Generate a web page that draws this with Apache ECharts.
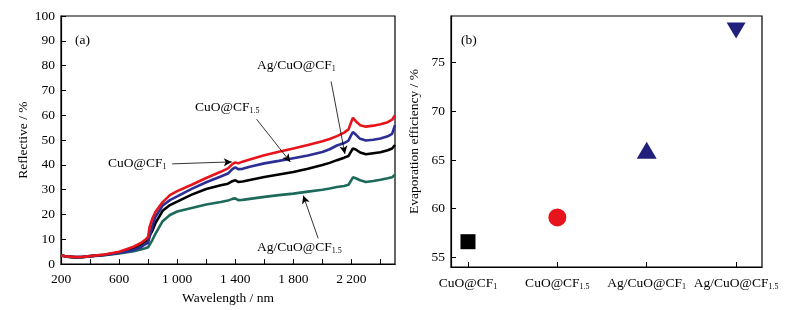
<!DOCTYPE html>
<html>
<head>
<meta charset="utf-8">
<script src="https://cdn.jsdelivr.net/npm/echarts@6/dist/echarts.min.js"></script>
<style>
  html, body { margin: 0; padding: 0; background: #fff; }
  #main { width: 793px; height: 310px; }
</style>
</head>
<body>
<div id="main"></div>
<script>
// (a) 反射光谱
const wavelength = [200, 250, 300, 350, 400, 500, 600, 700, 750, 780, 800, 810, 830, 850, 900, 950, 1000, 1100, 1200, 1300, 1350, 1380, 1400, 1420, 1450, 1500, 1600, 1700, 1800, 1900, 2000, 2050, 2100, 2150, 2180, 2200, 2210, 2230, 2260, 2300, 2350, 2400, 2450, 2480, 2500]
const cuoCF1 = [3.5, 3.0, 2.8, 2.9, 3.2, 3.9, 5.0, 7.0, 8.5, 9.8, 11, 15, 18.5, 21, 25, 27.8, 29.4, 32, 34.7, 37.2, 38.6, 40.3, 41, 40.6, 41.3, 42.2, 43.9, 45.3, 46.6, 48, 49.5, 50.4, 51.6, 53, 54.3, 57.5, 59, 57.6, 56, 55.4, 55.8, 56.4, 57.2, 58.2, 60]
const cuoCF15 = [3.5, 3.0, 2.8, 2.9, 3.2, 3.7, 4.5, 5.6, 6.8, 8.0, 8.6, 11, 15.5, 19, 23.6, 25.8, 27.3, 30.3, 33, 35.3, 36.5, 38.3, 39, 38.3, 38.4, 39.2, 40.6, 41.6, 42.7, 43.8, 45.2, 46.3, 47.8, 48.8, 49.8, 52.2, 53.2, 52.2, 50.5, 49.8, 50.1, 50.6, 51.5, 52.5, 56]
const agCF1 = [3.5, 3.0, 2.8, 2.9, 3.2, 3.8, 4.7, 6.4, 7.8, 9.0, 9.6, 11.5, 13.5, 16.5, 21.5, 23.8, 25.2, 28, 30.3, 31.8, 32.4, 33.4, 33.8, 33.1, 33.3, 33.9, 35.1, 36.1, 37.1, 38.4, 39.9, 40.8, 41.9, 42.9, 43.6, 45.6, 46.6, 46.2, 45, 44.3, 44.7, 45.1, 45.9, 46.6, 48]
const agCF15 = [3.6, 2.9, 2.6, 2.8, 3.1, 3.6, 4.3, 5.2, 5.9, 6.4, 6.8, 7.8, 9.8, 12.2, 17.3, 19.8, 21.2, 22.6, 24, 25, 25.6, 26.3, 26.5, 25.8, 25.9, 26.3, 27.1, 27.8, 28.4, 29.2, 30, 30.5, 31.1, 31.5, 32, 33.9, 35, 34.6, 33.8, 33.1, 33.5, 34, 34.6, 35, 36]
const xTicks = [200, 400, 600, 800, 1000, 1200, 1400, 1600, 1800, 2000, 2200, 2400]
const xLabels = [200, 600, 1000, 1400, 1800, 2200]

// (b) 蒸发效率
const samples = ['CuO@CF|1', 'CuO@CF|1.5', 'Ag/CuO@CF|1', 'Ag/CuO@CF|1.5']
const efficiency = [56.6, 59.1, 66.0, 78.3]
const effTicks = [55, 60, 65, 70, 75]

const FONT = 'Liberation Serif'
const FS = 13.5
const RED = '#e8141c'
const BLUE = '#2d2d96'
const BLACK = '#000000'
const TEAL = '#1d6a5a'
const NAVY = '#20207c'

const rich = {
  n: { fontFamily: FONT, fontSize: FS, color: '#000', lineHeight: 16 },
  s: { fontFamily: FONT, fontSize: 8, color: '#000', lineHeight: 16, padding: [7, 0, 0, 0] }
}
const sub = (name) => {
  const p = name.split('|')
  return '{n|' + p[0] + '}{s|' + p[1] + '}'
}

const pairs = (ys) => wavelength.map((x, i) => [x, ys[i]])

const arrow = (from, to) => ({
  silent: true,
  symbol: ['none', 'arrow'],
  symbolSize: [6, 8],
  label: { show: false },
  lineStyle: { color: '#000', width: 0.8, type: 'solid' },
  data: [[{ coord: from }, { coord: to }]]
})

const axisBase = {
  axisLine: { show: true, onZero: false, lineStyle: { color: '#000', width: 1.2 } },
  axisTick: { show: true, inside: true, length: 5, lineStyle: { color: '#000', width: 1 } },
  splitLine: { show: false },
  axisLabel: { color: '#000', fontFamily: FONT, fontSize: FS }
}
const nameStyle = { color: '#000', fontFamily: FONT, fontSize: FS }

const option = {
  animation: false,
  backgroundColor: '#fff',
  grid: [
    { left: 61, top: 16, width: 334, height: 250, show: true, borderColor: '#000', borderWidth: 1.2 },
    { left: 451, top: 16, width: 311, height: 251, show: true, borderColor: '#000', borderWidth: 1.2 }
  ],
  xAxis: [
    {
      ...axisBase,
      gridIndex: 0,
      type: 'value',
      min: 200,
      max: 2500,
      name: 'Wavelength / nm',
      nameLocation: 'middle',
      nameGap: 23,
      nameTextStyle: nameStyle,
      axisTick: { ...axisBase.axisTick, customValues: xTicks },
      axisLabel: {
        ...axisBase.axisLabel,
        customValues: xLabels,
        margin: 8,
        formatter: (v) => (v >= 1000 ? Math.floor(v / 1000) + ' ' + String(v % 1000).padStart(3, '0') : String(v))
      }
    },
    {
      ...axisBase,
      gridIndex: 1,
      type: 'value',
      min: -0.19,
      max: 3.29,
      axisTick: { ...axisBase.axisTick, customValues: [0, 1, 2, 3] },
      axisLabel: {
        ...axisBase.axisLabel,
        customValues: [0, 1, 2, 3],
        margin: 8,
        formatter: (v) => sub(samples[Math.round(v)]),
        rich: rich
      }
    }
  ],
  yAxis: [
    {
      ...axisBase,
      gridIndex: 0,
      type: 'value',
      min: 0,
      max: 100,
      interval: 10,
      name: 'Reflective / %',
      nameLocation: 'middle',
      nameGap: 31,
      nameTextStyle: nameStyle,
      axisLabel: { ...axisBase.axisLabel, margin: 6 }
    },
    {
      ...axisBase,
      gridIndex: 1,
      type: 'value',
      min: 54,
      max: 79.8,
      name: 'Evaporation efficiency / %',
      nameLocation: 'middle',
      nameGap: 30,
      nameTextStyle: nameStyle,
      axisTick: { ...axisBase.axisTick, customValues: effTicks },
      axisLabel: { ...axisBase.axisLabel, customValues: effTicks, margin: 6 }
    }
  ],
  series: [
    {
      name: 'Ag/CuO@CF1.5',
      type: 'line',
      xAxisIndex: 0,
      yAxisIndex: 0,
      data: pairs(agCF15),
      showSymbol: false,
      lineStyle: { color: TEAL, width: 2.6 },
      markLine: arrow([1971, 10.4], [1868, 27.6])
    },
    {
      name: 'Ag/CuO@CF1',
      type: 'line',
      xAxisIndex: 0,
      yAxisIndex: 0,
      data: pairs(agCF1),
      showSymbol: false,
      lineStyle: { color: BLACK, width: 2.6 },
      markLine: arrow([2060, 73.6], [2155, 44.4])
    },
    {
      name: 'CuO@CF1.5',
      type: 'line',
      xAxisIndex: 0,
      yAxisIndex: 0,
      data: pairs(cuoCF15),
      showSymbol: false,
      lineStyle: { color: BLUE, width: 2.6 },
      markLine: arrow([1547, 58.4], [1779, 41.2])
    },
    {
      name: 'CuO@CF1',
      type: 'line',
      xAxisIndex: 0,
      yAxisIndex: 0,
      data: pairs(cuoCF1),
      showSymbol: false,
      lineStyle: { color: RED, width: 2.6 },
      markLine: arrow([966, 40.4], [1376, 41.2])
    },
    {
      type: 'scatter',
      xAxisIndex: 1,
      yAxisIndex: 1,
      itemStyle: { opacity: 1 },
      data: [
        { value: [0, efficiency[0]], symbol: 'rect', symbolSize: 15, itemStyle: { color: BLACK, opacity: 1 } },
        { value: [1, efficiency[1]], symbol: 'circle', symbolSize: 18, itemStyle: { color: RED, opacity: 1 } },
        { value: [2, efficiency[2]], symbol: 'triangle', symbolSize: [20, 17], itemStyle: { color: NAVY, opacity: 1 } },
        { value: [3, efficiency[3]], symbol: 'triangle', symbolSize: [19, 16], symbolRotate: 180, itemStyle: { color: NAVY, opacity: 1 } }
      ]
    }
  ],
  graphic: [
    { type: 'text', left: 75, top: 33, style: { text: '(a)', fontFamily: FONT, fontSize: FS, fill: '#000' } },
    { type: 'text', left: 461, top: 33, style: { text: '(b)', fontFamily: FONT, fontSize: FS, fill: '#000' } },
    { type: 'text', left: 257, top: 58, style: { text: sub('Ag/CuO@CF|1'), rich: rich } },
    { type: 'text', left: 195, top: 100, style: { text: sub('CuO@CF|1.5'), rich: rich } },
    { type: 'text', left: 108, top: 156, style: { text: sub('CuO@CF|1'), rich: rich } },
    { type: 'text', left: 257, top: 240, style: { text: sub('Ag/CuO@CF|1.5'), rich: rich } }
  ]
}

const chart = echarts.init(document.getElementById('main'))
chart.setOption(option)
</script>
</body>
</html>
